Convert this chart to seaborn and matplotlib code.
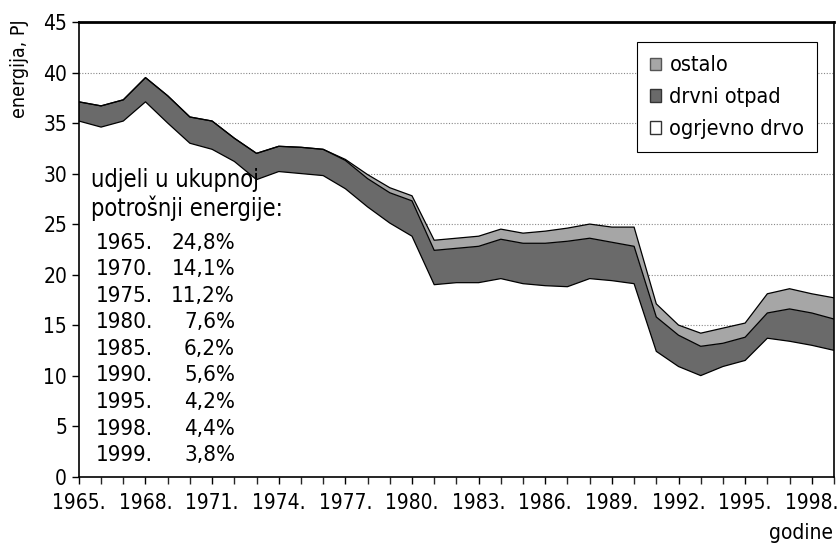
import matplotlib
matplotlib.use("Agg")
import matplotlib.pyplot as plt
from matplotlib.patches import Patch
import seaborn as sns
import numpy as np
import pandas as pd

years = list(range(1965, 2000))
# cumulative boundaries (PJ)
ogrjevno_drvo = [35.2, 34.6, 35.2, 37.1, 35.0, 33.0, 32.4, 31.2, 29.4, 30.2,
                 30.0, 29.8, 28.5, 26.7, 25.1, 23.8, 19.0, 19.2, 19.2, 19.6,
                 19.1, 18.9, 18.8, 19.6, 19.4, 19.1, 12.4, 10.9, 10.0, 10.9,
                 11.5, 13.7, 13.4, 13.0, 12.5]
drvni_otpad = [1.9, 2.1, 2.1, 2.4, 2.7, 2.6, 2.8, 2.3, 2.6, 2.5,
               2.6, 2.6, 2.8, 2.8, 3.0, 3.5, 3.4, 3.4, 3.6, 3.9,
               4.0, 4.2, 4.5, 4.0, 3.8, 3.7, 3.4, 3.1, 2.9, 2.3,
               2.3, 2.5, 3.2, 3.2, 3.1]
ostalo = [0.0, 0.0, 0.0, 0.0, 0.0, 0.0, 0.0, 0.0, 0.0, 0.0,
          0.0, 0.0, 0.1, 0.4, 0.5, 0.5, 1.0, 1.0, 1.0, 1.0,
          1.0, 1.2, 1.3, 1.4, 1.5, 1.9, 1.3, 1.0, 1.3, 1.5,
          1.4, 1.9, 2.0, 1.9, 2.1]

series_names = ["ogrjevno drvo", "drvni otpad", "ostalo"]
series_colors = ["#ffffff", "#6a6a6a", "#a6a6a6"]

share_years = ["1965.", "1970.", "1975.", "1980.", "1985.", "1990.", "1995.", "1998.", "1999."]
share_values = ["24,8%", "14,1%", "11,2%", "7,6%", "6,2%", "5,6%", "4,2%", "4,4%", "3,8%"]

xtick_years = list(range(1965, 1999, 3))

sns.set_theme(style="white")
FONT = ["DejaVu Sans"]
plt.rcParams["font.family"] = FONT
plt.rcParams["font.stretch"] = "condensed"
plt.rcParams["text.color"] = "black"

fig = plt.figure(figsize=(8.39, 5.51), dpi=100)
ax = fig.add_axes([0.094, 0.135, 0.900, 0.825])

df = pd.DataFrame({"year": years, "ogrjevno drvo": ogrjevno_drvo,
                   "drvni otpad": drvni_otpad, "ostalo": ostalo})
ax.stackplot(df["year"], df["ogrjevno drvo"], df["drvni otpad"], df["ostalo"],
             colors=series_colors, edgecolor="none", zorder=2)

cum = df[series_names].cumsum(axis=1)
for name in series_names:
    sns.lineplot(x=df["year"], y=cum[name], ax=ax, color="black", linewidth=0.9,
                 zorder=3, legend=False)

ax.set_xlim(1965, 1999)
ax.set_ylim(0, 45)
ax.set_yticks(range(0, 50, 5))
ax.set_xticks(xtick_years)
ax.set_xticklabels([f"{y}." for y in xtick_years])
ax.set_xticks(years, minor=True)
for y in range(5, 45, 5):
    ax.axhline(y, color="#888888", linestyle=(0, (1, 1.5)), linewidth=0.8, zorder=1)

ax.tick_params(axis="both", which="major", labelsize=15, length=5, width=1,
               direction="out", colors="black", bottom=True, left=True)
ax.tick_params(axis="x", which="major", pad=7)
ax.tick_params(axis="x", which="minor", length=5, width=1, bottom=True, direction="out")
for sp in ax.spines.values():
    sp.set_color("black")
    sp.set_linewidth(1.2)
ax.spines["top"].set_linewidth(2.0)
ax.set_xlabel("")
ax.set_ylabel("")

fig.text(0.012, 0.965, "energija, PJ", rotation=90, ha="left", va="top", fontsize=14,
         color="black")
fig.text(0.993, 0.015, "godine", ha="right", va="bottom", fontsize=15, color="black")

handles = [Patch(facecolor=series_colors[2], edgecolor="#555555", label="ostalo"),
           Patch(facecolor=series_colors[1], edgecolor="#333333", label="drvni otpad"),
           Patch(facecolor=series_colors[0], edgecolor="#333333", label="ogrjevno drvo")]
leg = ax.legend(handles=handles, loc="upper right", bbox_to_anchor=(0.978, 0.955),
                borderaxespad=0, fontsize=15.5, frameon=True, fancybox=False,
                handlelength=0.5, handleheight=0.5, handletextpad=0.4,
                labelspacing=0.55, borderpad=0.6, framealpha=1, labelcolor="black")
leg.get_frame().set_edgecolor("black")
leg.get_frame().set_linewidth(0.8)

ax.text(0.016, 0.68, "udjeli u ukupnoj\npotrošnji energije:", transform=ax.transAxes,
        ha="left", va="top", fontsize=17, linespacing=1.2, color="black")
row_top = 0.537
row_step = 0.0585
for i, (yl, val) in enumerate(zip(share_years, share_values)):
    yy = row_top - i * row_step
    ax.text(0.022, yy, yl, transform=ax.transAxes, ha="left", va="top", fontsize=16,
            color="black")
    ax.text(0.207, yy, val, transform=ax.transAxes, ha="right", va="top", fontsize=16,
            color="black")

fig.savefig("out.png", dpi=100)
